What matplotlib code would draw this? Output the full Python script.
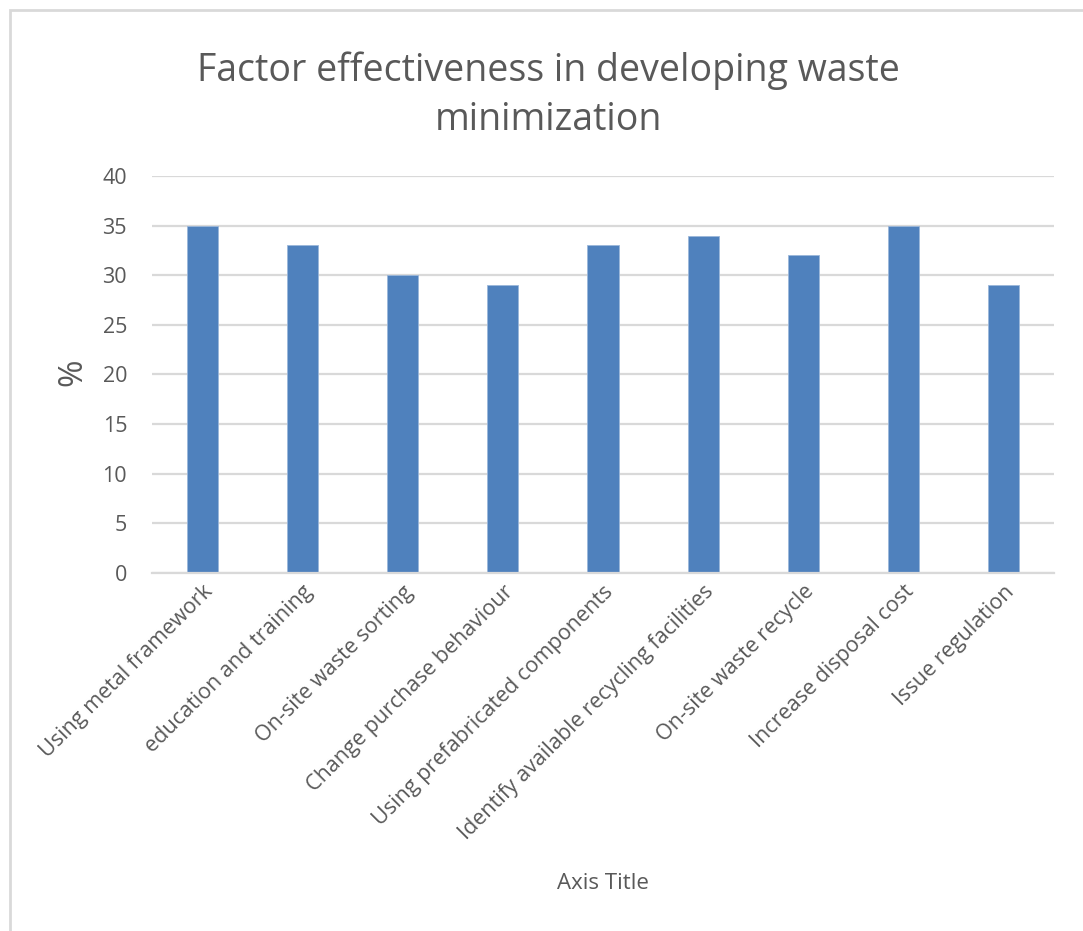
import matplotlib.pyplot as plt
from matplotlib.patches import Rectangle

# Survey results
factors = [
    "Using metal framework",
    "education and training",
    "On-site waste sorting",
    "Change purchase behaviour",
    "Using prefabricated components",
    "Identify available recycling facilities",
    "On-site waste recycle",
    "Increase disposal cost",
    "Issue regulation",
]
percent = [35, 33, 30, 29, 33, 34, 32, 35, 29]
y_ticks = [0, 5, 10, 15, 20, 25, 30, 35, 40]

text_grey = "#595959"
grid_grey = "#d9d9d9"
plt.rcParams['font.family'] = ['Open Sans', 'DejaVu Sans']

fig = plt.figure(figsize=(10.83, 9.31), dpi=100)
ax = fig.add_axes([0.1404, 0.3845, 0.8328, 0.4265])

# chart frame (only left and top edges visible)
fig.add_artist(Rectangle((0.0095, -0.05), 1.2, 1.039, transform=fig.transFigure,
                         fill=False, edgecolor=grid_grey, linewidth=2))

ax.bar(range(len(factors)), percent, width=0.31, color="#4f81bd",
       edgecolor="#9bb7da", linewidth=0.6, zorder=3)

ax.set_xlim(-0.5, len(factors) - 0.5)
ax.set_ylim(0, 40)
ax.set_yticks(y_ticks)
ax.set_yticklabels([str(v) for v in y_ticks], fontsize=15.5, color=text_grey)
ax.grid(axis="y", color=grid_grey, linewidth=1.6, zorder=0)
ax.tick_params(axis="y", length=0, pad=18)
ax.tick_params(axis="x", length=0, pad=6)
ax.set_xticks(range(len(factors)))
ax.set_xticklabels(factors, rotation=45, ha="right", rotation_mode="anchor",
                   fontsize=15.5, color=text_grey)

for side in ["top", "right", "left"]:
    ax.spines[side].set_visible(False)
ax.spines["bottom"].set_color(grid_grey)
ax.spines["bottom"].set_linewidth(1.6)
ax.spines["bottom"].set_zorder(4)

fig.text(0.506, 0.898, "Factor effectiveness in developing waste\nminimization",
         ha="center", va="center", fontsize=27, color=text_grey, linespacing=1.38)
fig.text(0.067, 0.6, "%", rotation=90, ha="center", va="center",
         fontsize=24, color=text_grey)
fig.text(0.557, 0.051, "Axis Title", ha="center", va="center",
         fontsize=16, color=text_grey)

fig.savefig("out.png", dpi=100, facecolor="white")
